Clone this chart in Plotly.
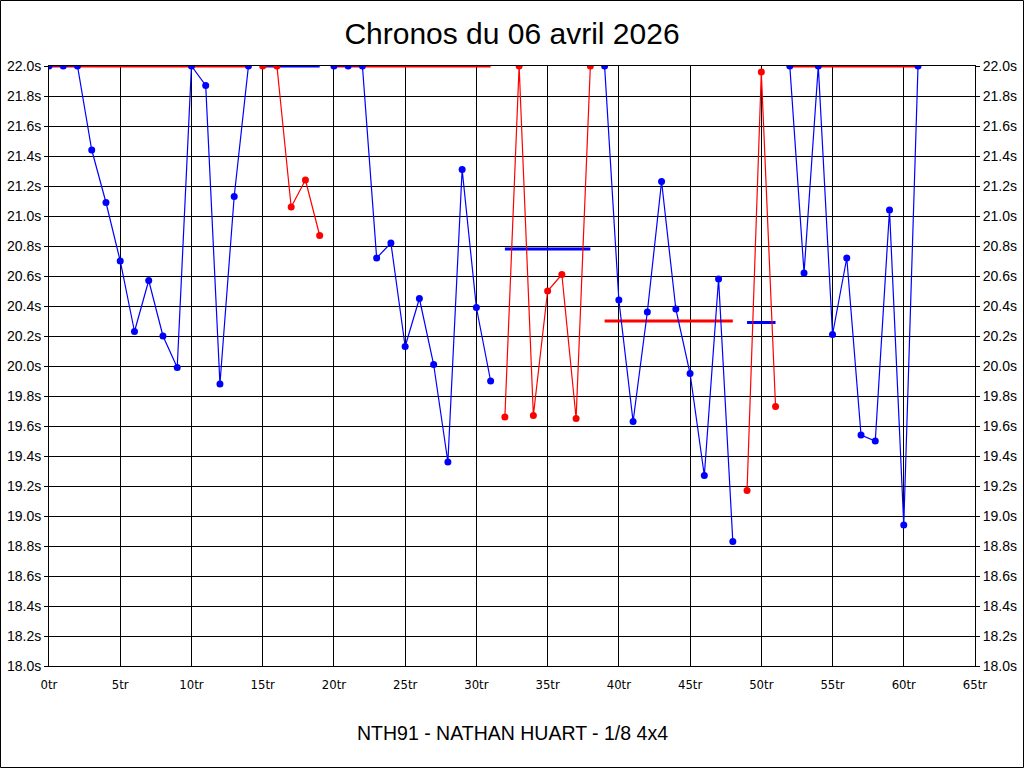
import plotly.graph_objects as go

# Lap times (s), capped at 22.0 on the chart
laps = list(range(62))
times = [22.0, 22.0, 22.0, 21.44, 21.09, 20.70, 20.23, 20.57, 20.20, 19.99,
         22.0, 21.87, 19.88, 21.13, 22.0,
         22.0, 22.0, 21.06, 21.24, 20.87,
         22.0, 22.0, 22.0, 20.72, 20.82, 20.13, 20.45, 20.01, 19.36, 21.31, 20.39, 19.90,
         19.66, 22.0, 19.67, 20.50, 20.61, 19.65, 22.0,
         22.0, 20.44, 19.63, 20.36, 21.23, 20.38, 19.95, 19.27, 20.58, 18.83,
         19.17, 21.96, 19.73,
         22.0, 20.62, 22.0, 20.21, 20.72, 19.54, 19.50, 21.04, 18.94, 22.0]

# Stints: first lap, last lap, colour of points, average shown
seg_start = [0, 15, 20, 32, 39, 49, 52]
seg_end = [14, 19, 31, 38, 48, 51, 61]
seg_color = ["blue", "red", "blue", "red", "blue", "red", "blue"]
seg_avg = [22.0, 22.0, 22.0, 20.78, 20.30, 20.29, 22.0]

x_ticks = list(range(0, 66, 5))
y_ticks = [round(18.0 + 0.2 * i, 1) for i in range(21)]

COL = {"blue": "#0000FF", "red": "#FF0000"}
OPP = {"blue": "red", "red": "blue"}

fig = go.Figure()

# average lines first (drawn under points)
for s, e, c, a in zip(seg_start, seg_end, seg_color, seg_avg):
    fig.add_trace(go.Scatter(x=[s, e], y=[a, a], mode="lines",
                             line=dict(color=COL[OPP[c]], width=3),
                             hoverinfo="skip", showlegend=False))

for s, e, c in zip(seg_start, seg_end, seg_color):
    fig.add_trace(go.Scatter(x=laps[s:e + 1], y=times[s:e + 1], mode="lines+markers",
                             line=dict(color=COL[c], width=1.2),
                             marker=dict(color=COL[c], size=7),
                             showlegend=False))

# invisible trace for right axis
fig.add_trace(go.Scatter(x=[0], y=[18.0], yaxis="y2", mode="markers",
                         marker=dict(opacity=0), showlegend=False, hoverinfo="skip"))

W, H = 1024, 768
ml, mr, mt, mb = 49, 49, 66, 102
pw, ph = W - ml - mr, H - mt - mb

axis_font = dict(family="Liberation Sans, Arial, sans-serif", size=14, color="black")
xfont = dict(family="Liberation Sans Narrow, Arial Narrow, DejaVu Sans Condensed, Liberation Sans, sans-serif",
             size=13, color="black")

fig.update_layout(
    width=W, height=H,
    margin=dict(l=ml, r=mr, t=mt, b=mb, pad=0, autoexpand=False),
    paper_bgcolor="white", plot_bgcolor="white",
    title=dict(text="Chronos du 06 avril 2026", x=0.5, xanchor="center",
               y=1 - 33 / H, yanchor="middle", yref="container",
               font=dict(family="Liberation Sans, Arial, sans-serif", size=30, color="black")),
    xaxis=dict(range=[0, 65], tickvals=x_ticks, ticktext=[f"{v}tr" for v in x_ticks],
               showgrid=True, gridcolor="black", gridwidth=1,
               showline=True, linecolor="black", linewidth=1, mirror=True,
               zeroline=False, ticks="outside", ticklen=6, tickcolor="rgba(0,0,0,0)",
               tickfont=xfont, fixedrange=True),
    yaxis=dict(range=[18.0, 22.0], tickvals=y_ticks, ticktext=[f"{v:.1f}s" for v in y_ticks],
               showgrid=True, gridcolor="black", gridwidth=1,
               showline=True, linecolor="black", linewidth=1, mirror=True,
               zeroline=False, ticks="outside", ticklen=4, tickcolor="black",
               tickfont=axis_font, fixedrange=True),
    yaxis2=dict(range=[18.0, 22.0], tickvals=y_ticks, ticktext=[f"{v:.1f}s" for v in y_ticks],
                overlaying="y", side="right", showgrid=False, zeroline=False,
                ticks="outside", ticklen=4, tickcolor="black",
                tickfont=axis_font, fixedrange=True),
    annotations=[dict(text="NTH91 - NATHAN HUART - 1/8 4x4", xref="paper", yref="paper",
                      x=0.5, y=-(733 - (H - mb)) / ph, xanchor="center", yanchor="middle",
                      showarrow=False,
                      font=dict(family="Liberation Sans, Arial, sans-serif", size=19.5, color="black"))],
    shapes=[dict(type="rect", xref="paper", yref="paper",
                 x0=(-ml + 0.5) / pw, x1=1 + (mr - 0.5) / pw,
                 y0=(-mb + 0.5) / ph, y1=1 + (mt - 0.5) / ph,
                 line=dict(color="black", width=1), layer="below")],
)

fig.write_html("out.html", config={"displayModeBar": False},
               post_script="document.body.style.margin='0';document.body.style.overflow='hidden';")
